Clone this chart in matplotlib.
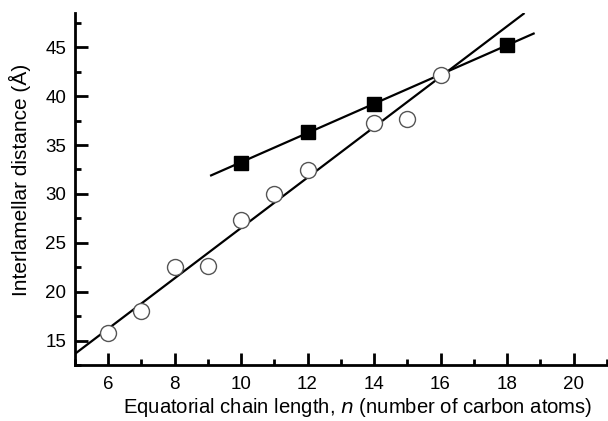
import numpy as np
import matplotlib
matplotlib.use("Agg")
import matplotlib.pyplot as plt
from matplotlib.ticker import MultipleLocator

plt.rcParams['font.family'] = ['Liberation Sans', 'DejaVu Sans']

# Data
n_circles = [6, 7, 8, 9, 10, 11, 12, 14, 15, 16]
d_circles = [15.8, 18.0, 22.5, 22.6, 27.3, 30.0, 32.4, 37.3, 37.7, 42.2]
n_squares = [10, 12, 14, 18]
d_squares = [33.2, 36.3, 39.2, 45.2]

fig = plt.figure(figsize=(6.08, 4.21), dpi=100)
ax = fig.add_axes([0.123, 0.133, 0.875, 0.836])

# fit lines
pc = np.polyfit(n_circles, d_circles, 1)
xc = np.array([5.0, 18.5])
ax.plot(xc, np.polyval(pc, xc), color='black', lw=1.6, zorder=2)
ps = np.polyfit(n_squares, d_squares, 1)
xs = np.array([9.1, 18.8])
ax.plot(xs, np.polyval(ps, xs), color='black', lw=1.6, zorder=2)

ax.plot(n_circles, d_circles, 'o', ms=11.5, mfc='white', mec='#555555', mew=1.0, zorder=3)
ax.plot(n_squares, d_squares, 's', ms=10.5, mfc='black', mec='black', zorder=4)

ax.set_xlim(5, 21)
ax.set_ylim(12.5, 48.5)
ax.xaxis.set_major_locator(MultipleLocator(2))
ax.xaxis.set_minor_locator(MultipleLocator(1))
ax.yaxis.set_major_locator(MultipleLocator(5))
ax.yaxis.set_minor_locator(MultipleLocator(2.5))

for s in ['top', 'right']:
    ax.spines[s].set_visible(False)
for s in ['left', 'bottom']:
    ax.spines[s].set_linewidth(2.0)

ax.tick_params(which='major', direction='in', length=9, width=2, labelsize=13.5)
ax.tick_params(axis='x', which='major', pad=8)
ax.tick_params(axis='y', which='major', pad=6)
ax.tick_params(which='minor', direction='in', length=4.5, width=2)

ax.set_xlabel('Equatorial chain length, $\\it{n}$ (number of carbon atoms)', fontsize=14.6,
              va='center', ha='center')
ax.xaxis.set_label_coords(0.531, -0.121)
ax.set_ylabel('Interlamellar distance (Å)', fontsize=15, va='center', ha='center')
ax.yaxis.set_label_coords(-0.103, 0.526)

fig.savefig('out.png', dpi=100)
